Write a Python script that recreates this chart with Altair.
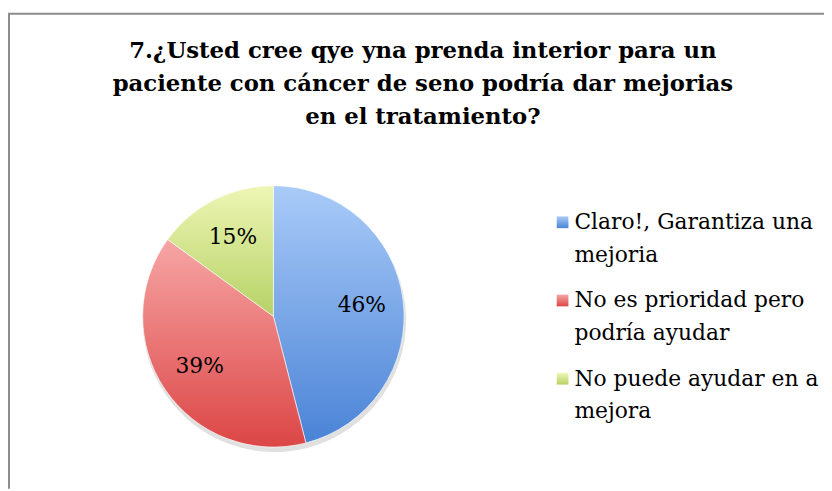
import math
import altair as alt
import pandas as pd

# ---- data ----
categories = ["Claro!, Garantiza una mejoria",
              "No es prioridad pero podría ayudar",
              "No puede ayudar en a mejora"]
values = [46, 39, 15]
pct_labels = ["46%", "39%", "15%"]
legend_lines = [["Claro!, Garantiza una", "mejoria"],
                ["No es prioridad pero", "podría ayudar"],
                ["No puede ayudar en a", "mejora"]]
title_lines = ["7.¿Usted cree qye yna prenda interior para un",
               "paciente con cáncer de seno podría dar mejorias",
               "en el tratamiento?"]

# ---- style ----
colors_top = ["#a9cbf8", "#f7a5a5", "#eef6b4"]
colors_bottom = ["#4a83d6", "#dc4646", "#b6d166"]
FONT = "DejaVu Serif"
CX, CY, R = 268, 309, 132

df = pd.DataFrame({"cat": categories, "value": values, "pct": pct_labels,
                   "lines": legend_lines, "order": list(range(len(categories)))})

theta_scale = alt.Scale(domain=[0, 100], range=[0, 2 * math.pi])
legend_scale = alt.Scale(type="point", domain=categories, range=[214, 372], padding=0)

base = alt.Chart(df).transform_window(
    end="sum(value)", sort=[alt.SortField("order")], frame=[None, 0]
).transform_calculate(
    start="datum.end - datum.value", mid="datum.end - datum.value / 2"
)

def grad(i):
    return alt.Gradient(gradient="linear",
                        stops=[alt.GradientStop(color=colors_top[i], offset=0),
                               alt.GradientStop(color=colors_bottom[i], offset=1)],
                        x1=0, y1=0, x2=0, y2=1)

layers = []

# frame
frame_df = pd.DataFrame({"a": [0]})
layers.append(alt.Chart(frame_df).mark_rule(color="#8c8c8c", strokeWidth=2).encode(
    x=alt.value(1), y=alt.value(3), y2=alt.value(483)))
layers.append(alt.Chart(frame_df).mark_rule(color="#8c8c8c", strokeWidth=2).encode(
    x=alt.value(0), x2=alt.value(824), y=alt.value(3.5)))

# shadow
layers.append(base.mark_arc(radius=R + 1, color="#000000", opacity=0.12).encode(
    theta=alt.Theta("start:Q", scale=theta_scale), theta2="end:Q",
    x=alt.value(CX + 1), y=alt.value(CY + 4)))

for i in range(len(categories)):
    sub = base.transform_filter(alt.datum.order == i)
    layers.append(sub.mark_arc(radius=R, fill=grad(i), filled=True,
                               stroke="#ffffff", strokeWidth=1, strokeOpacity=0.6).encode(
        theta=alt.Theta("start:Q", scale=theta_scale), theta2="end:Q",
        x=alt.value(CX), y=alt.value(CY)))
    layers.append(sub.mark_point(shape="square", size=140, fill=grad(i), filled=True,
                                 opacity=1, strokeWidth=0).encode(
        x=alt.value(560), y=alt.Y("cat:N", scale=legend_scale, axis=None)))

# pie labels
layers.append(base.mark_text(radius=90, font=FONT, fontSize=22, color="#000000").encode(
    theta=alt.Theta("mid:Q", scale=theta_scale), text="pct:N",
    x=alt.value(CX), y=alt.value(CY)))

# legend text
layers.append(base.mark_text(align="left", baseline="middle", lineHeight=33,
                             font=FONT, fontSize=22, color="#000000").encode(
    x=alt.value(572), y=alt.Y("cat:N", scale=legend_scale, axis=None), text="lines"))

# title
title_df = pd.DataFrame({"t": [title_lines]})
layers.append(alt.Chart(title_df).mark_text(align="center", baseline="middle", lineHeight=33.5,
                                            font=FONT, fontSize=23, fontWeight="bold",
                                            color="#000000").encode(
    x=alt.value(419), y=alt.value(41), text="t"))

chart = alt.layer(*layers).properties(
    width=824, height=483,
    autosize=alt.AutoSizeParams(type="none"), padding=0
).configure_view(stroke=None).resolve_scale(theta="shared", y="shared")

chart.save("out.html", embed_options={"renderer": "svg", "actions": False})
